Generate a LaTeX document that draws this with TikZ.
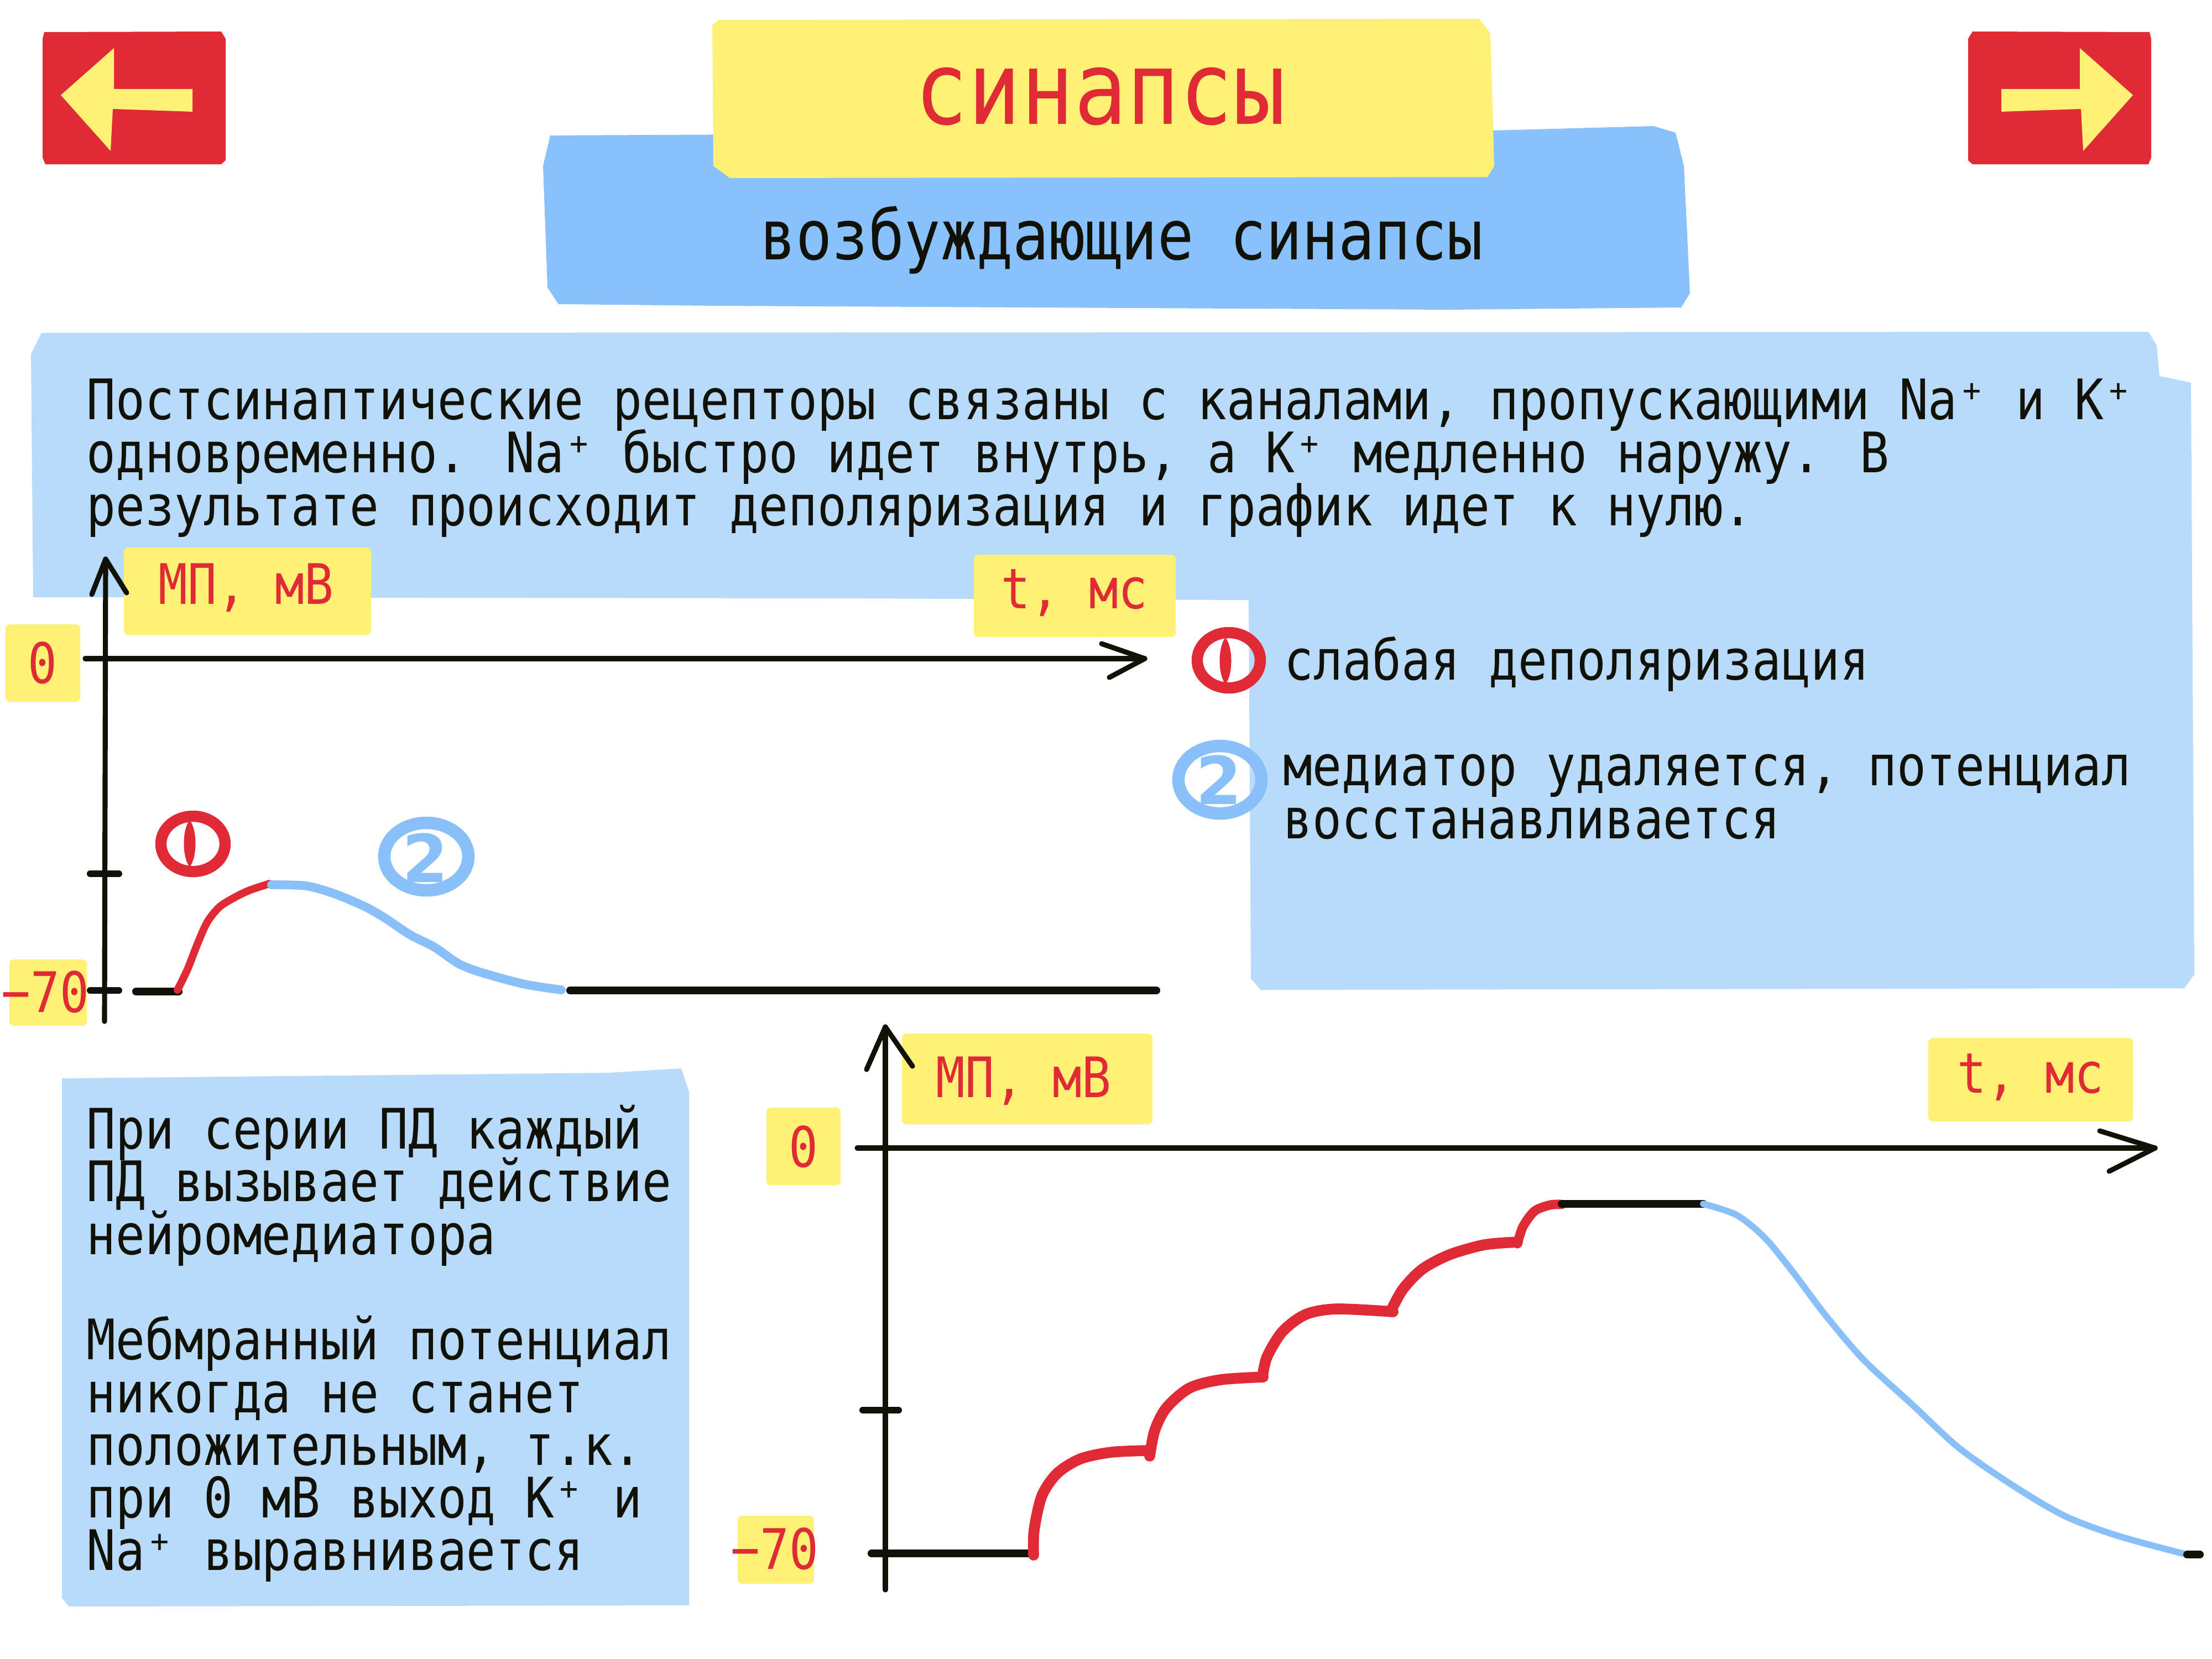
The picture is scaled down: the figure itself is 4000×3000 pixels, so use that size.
\documentclass[tikz,border=0pt]{standalone}
\usepackage{fontspec}
\newfontfamily\mono{DejaVu Sans Mono}[FakeStretch=0.87]
\newfontfamily\digitfont{DejaVu Sans}
\definecolor{myred}{RGB}{224,42,54}
\definecolor{myyellow}{RGB}{255,241,118}
\definecolor{subblue}{RGB}{136,193,252}
\definecolor{lightblue}{RGB}{184,219,251}
\definecolor{curveblue}{RGB}{137,192,250}
\definecolor{ink}{RGB}{17,17,8}
\begin{document}
\begin{tikzpicture}[x=0.01cm,y=-0.01cm,
  body/.style={font=\mono\fontsize{28.7}{27.3}\selectfont, text=ink, anchor=base west, inner sep=0pt},
  lbl/.style={font=\mono\fontsize{28.7}{27.3}\selectfont, text=myred, anchor=base, inner sep=0pt},
  ybox/.style={fill=myyellow, rounded corners=0.08cm},
  axis/.style={draw=ink, line width=2.6pt, line cap=round, line join=round},
  tickmark/.style={draw=ink, line width=3.4pt, line cap=round},
  flat/.style={draw=ink, line width=4pt, line cap=round},
  redcurve/.style={draw=myred, line cap=round, line join=round},
  bluecurve/.style={draw=curveblue, line cap=round, line join=round},
  redring/.style={draw=myred, line width=5.8pt},
  bluering/.style={draw=curveblue, line width=6.4pt},
  twolbl/.style={font=\digitfont\bfseries\fontsize{34}{34}\selectfont, text=curveblue, inner sep=0pt}
]
\useasboundingbox (0,0) rectangle (4000,3000);
\fill[white] (0,0) rectangle (4000,3000);

% ---------- big light blue panel ----------
\fill[lightblue] (75,602) -- (3885,600) -- (3900,625) -- (3905,680) -- (3962,692)
  -- (3968,1762) -- (3950,1787) -- (2280,1790) -- (2262,1770) -- (2258,1085)
  -- (1500,1082) -- (60,1080) -- (56,640) -- cycle;
% ---------- lower-left panel ----------
\fill[lightblue] (112,1950) -- (1100,1940) -- (1232,1932) -- (1246,1975)
  -- (1246,2903) -- (125,2905) -- (112,2890) -- cycle;

% ---------- subtitle box ----------
\fill[subblue] (995,245) -- (2700,236) -- (2990,228) -- (3030,240) -- (3045,300)
  -- (3056,530) -- (3040,556) -- (2620,560) -- (1300,553) -- (1010,550)
  -- (990,520) -- (982,300) -- cycle;
% ---------- title box ----------
\fill[myyellow] (1300,36) -- (2675,34) -- (2695,60) -- (2702,300) -- (2690,320)
  -- (1320,322) -- (1290,300) -- (1288,45) -- cycle;
\node[font=\mono\fontsize{52}{60}\selectfont, text=myred, anchor=base, inner sep=0pt] (title) at (1990,225) {синапсы};
\node[font=\mono\fontsize{35.5}{40}\selectfont, text=ink, anchor=base, inner sep=0pt] (subtitle) at (2028,469) {возбуждающие синапсы};

% ---------- navigation buttons ----------
\fill[myred] (80,58) -- (400,57) -- (408,70) -- (408,290) -- (400,297) -- (82,297) -- (77,285) -- (77,70) -- cycle;
\fill[myyellow] (110,172) -- (206,87) -- (206,161) -- (348,161) -- (348,202) -- (204,197) -- (200,273) -- cycle;
\fill[myred] (3887,58) -- (3567,57) -- (3559,70) -- (3559,290) -- (3567,297) -- (3885,297) -- (3890,285) -- (3890,70) -- cycle;
\fill[myyellow] (3857,172) -- (3761,87) -- (3761,161) -- (3619,161) -- (3619,202) -- (3763,197) -- (3767,273) -- cycle;

% ---------- main text ----------
\node[body] (p1) at (156,758) {Постсинаптические рецепторы связаны с каналами, пропускающими Na⁺ и K⁺};
\node[body] (p2) at (156,854) {одновременно. Na⁺ быстро идет внутрь, а K⁺ медленно наружу. В};
\node[body] (p3) at (156,950) {результате происходит деполяризация и график идет к нулю.};

% ---------- top chart labels ----------
\fill[ybox] (224,990) rectangle (671,1148);
\fill[ybox] (1761,1003) rectangle (2126,1152);
\fill[ybox] (10,1129) rectangle (145,1269);
\fill[ybox] (17,1735) rectangle (157,1855);
\node[lbl] (ymv1) at (445,1092) {МП, мВ};
\node[lbl] (xms1) at (1943,1100) {t, мс};
\node[lbl] (zero1) at (77,1235) {0};
\node[lbl] (m701) at (82,1830) {−70};

% ---------- top chart ----------
\draw[axis] (189,1847) -- (191,1011);
\draw[axis] (166,1075) -- (191,1011) -- (229,1072);
\draw[axis] (154,1191) -- (2070,1191);
\draw[axis] (1992,1164) -- (2070,1191) -- (2006,1225);
\draw[tickmark] (163,1580) -- (215,1580);
\draw[tickmark] (163,1791) -- (215,1791);
\draw[flat] (246,1793) -- (323,1793);
\draw[redcurve, line width=3.9pt] plot[smooth] coordinates {(321,1790) (339,1753) (357,1707) (375,1667) (397,1640) (424,1623) (451,1610) (487,1598)};
\draw[bluecurve, line width=4.5pt] plot[smooth] coordinates {(491,1600) (554,1602) (607,1617) (661,1640) (696,1660) (741,1690) (786,1713) (830,1743) (875,1760) (950,1780) (1015,1790)};
\draw[flat] (1031,1791) -- (2091,1791);

% circled numbers in top chart
\draw[redring] (349,1526) ellipse [x radius=0.58cm, y radius=0.50cm];
\fill[myred] (343,1483) .. controls (357,1500) and (357,1550) .. (343,1568) .. controls (329,1550) and (329,1500) .. (343,1483) -- cycle;
\draw[bluering] (771,1549) ellipse [x radius=0.76cm, y radius=0.61cm];
\node[twolbl] (two1) at (769,1551) {2};

% ---------- legend ----------
\draw[redring] (2222,1194) ellipse [x radius=0.57cm, y radius=0.50cm];
\fill[myred] (2216,1153) .. controls (2230,1170) and (2230,1220) .. (2216,1237) .. controls (2202,1220) and (2202,1170) .. (2216,1153) -- cycle;
\draw[bluering] (2206,1410) ellipse [x radius=0.75cm, y radius=0.61cm];
\node[twolbl] (two2) at (2204,1410) {2};
\node[body] (l1) at (2322,1229) {слабая деполяризация};
\node[body] (l2a) at (2320,1420) {медиатор удаляется, потенциал};
\node[body] (l2b) at (2320,1516) {восстанавливается};

% ---------- lower-left text ----------
\node[body] (q1) at (156,2077) {При серии ПД каждый};
\node[body] (q2) at (156,2172) {ПД вызывает действие};
\node[body] (q3) at (156,2268) {нейромедиатора};
\node[body] (q4) at (156,2458) {Мебмранный потенциал};
\node[body] (q5) at (156,2554) {никогда не станет};
\node[body] (q6) at (156,2649) {положительным, т.к.};
\node[body] (q7) at (156,2744) {при 0 мВ выход K⁺ и};
\node[body] (q8) at (156,2839) {Na⁺ выравнивается};

% ---------- bottom chart labels ----------
\fill[ybox] (1631,1869) rectangle (2084,2033);
\fill[ybox] (3487,1877) rectangle (3857,2028);
\fill[ybox] (1386,2003) rectangle (1520,2143);
\fill[ybox] (1334,2741) rectangle (1472,2864);
\node[lbl] (ymv2) at (1851,1984) {МП, мВ};
\node[lbl] (xms2) at (3672,1976) {t, мс};
\node[lbl] (zero2) at (1453,2110) {0};
\node[lbl] (m702) at (1401,2837) {−70};

% ---------- bottom chart ----------
\draw[axis] (1601,2875) -- (1601,1857);
\draw[axis] (1567,1934) -- (1601,1857) -- (1650,1928);
\draw[axis] (1550,2076) -- (3897,2076);
\draw[axis] (3797,2045) -- (3897,2076) -- (3814,2118);
\draw[tickmark] (1560,2550) -- (1625,2550);
\draw[flat] (1576,2809) -- (1868,2809);
\draw[redcurve, line width=5.6pt] plot[smooth] coordinates {(1869,2812) (1870,2767) (1884,2705) (1912,2664) (1954,2638) (2010,2626) (2077,2623)};
\draw[redcurve, line width=5.6pt] plot[smooth] coordinates {(2079,2633) (2088,2587) (2109,2546) (2151,2510) (2207,2495) (2284,2490)};
\draw[redcurve, line width=5.6pt] plot[smooth] coordinates {(2283,2490) (2291,2454) (2319,2408) (2361,2377) (2417,2367) (2519,2372)};
\draw[redcurve, line width=5.6pt] plot[smooth] coordinates {(2516,2369) (2537,2331) (2572,2295) (2621,2269) (2684,2251) (2744,2246)};
\draw[redcurve, line width=4.8pt] plot[smooth] coordinates {(2744,2249) (2754,2218) (2775,2190) (2803,2179) (2824,2178)};
\draw[flat] (2824,2177) -- (3080,2177);
\draw[bluecurve, line width=3.3pt] plot[smooth] coordinates {(3080,2177) (3140,2197) (3191,2238) (3242,2300) (3300,2377) (3370,2459) (3459,2541) (3542,2618) (3638,2685) (3733,2741) (3829,2777) (3950,2810)};
\draw[flat] (3955,2811) -- (3978,2811);
\end{tikzpicture}
\end{document}
